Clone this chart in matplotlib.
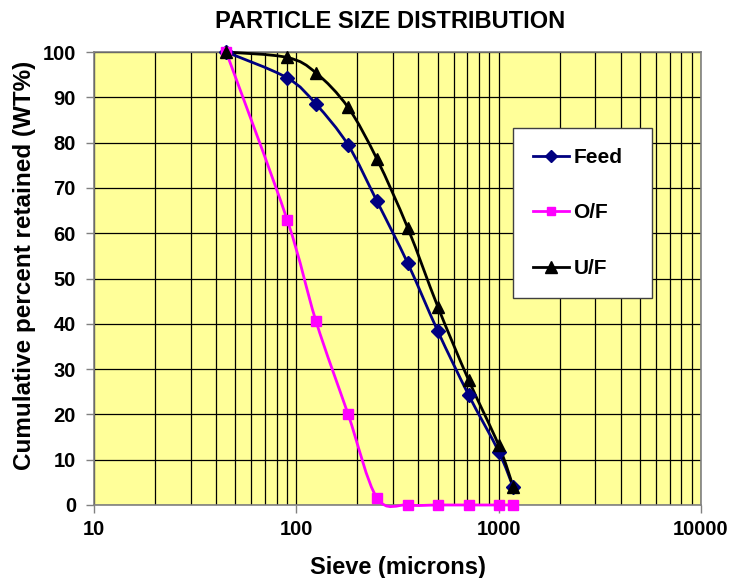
import numpy as np
import matplotlib
matplotlib.use("Agg")
import matplotlib.pyplot as plt
from matplotlib.path import Path
from matplotlib.patches import PathPatch
from matplotlib.lines import Line2D

plt.rcParams['font.family'] = ['Liberation Sans', 'DejaVu Sans']
plt.rcParams['font.weight'] = 'bold'

sieve = [45, 90, 125, 180, 250, 355, 500, 710, 1000, 1180]
feed = [100, 94.3, 88.5, 79.5, 67.1, 53.4, 38.4, 24.3, 11.8, 3.9]
overflow = [100, 63.0, 40.6, 20.1, 1.6, 0, 0, 0, 0, 0]
underflow = [100, 98.8, 95.4, 87.8, 76.4, 61.2, 43.8, 27.6, 13.2, 4.0]


def smooth_path(xs, ys):
    # excel-style smoothed line: bezier through points in (log x, y) space
    lx = np.log10(xs)
    ys = np.asarray(ys, float)
    n = len(lx)
    verts = [(xs[0], ys[0])]
    codes = [Path.MOVETO]
    for i in range(n - 1):
        a = max(i - 1, 0)
        b = min(i + 2, n - 1)
        c1x = lx[i] + (lx[i + 1] - lx[a]) / 6
        c1y = ys[i] + (ys[i + 1] - ys[a]) / 6
        c2x = lx[i + 1] - (lx[b] - lx[i]) / 6
        c2y = ys[i + 1] - (ys[b] - ys[i]) / 6
        verts += [(10 ** c1x, c1y), (10 ** c2x, c2y), (xs[i + 1], ys[i + 1])]
        codes += [Path.CURVE4] * 3
    return Path(verts, codes)


fig = plt.figure(figsize=(7.3, 5.78), dpi=100)
ax = fig.add_axes([0.1288, 0.1263, 0.8315, 0.7837])
ax.set_facecolor('#FFFF99')
ax.set_xscale('log')
ax.set_xlim(10, 10000)
ax.set_ylim(0, 100)

ax.set_xticks([10, 100, 1000, 10000], labels=['10', '100', '1000', '10000'])
ax.set_yticks(range(0, 101, 10))
ax.tick_params(axis='both', which='major', labelsize=14.5, length=6, width=1,
               color='#808080', direction='out')
ax.tick_params(axis='x', which='major', pad=5)
ax.tick_params(axis='y', which='major', pad=7)
ax.tick_params(axis='x', which='minor', length=0)
ax.grid(True, which='both', axis='x', color='black', linewidth=0.9)
ax.grid(True, which='major', axis='y', color='black', linewidth=0.9)
ax.set_axisbelow(True)
for s in ax.spines.values():
    s.set_color('#808080')
    s.set_linewidth(1.2)

series = [
    (feed, 'Feed', '#000080', 'D', 7),
    (overflow, 'O/F', '#FF00FF', 's', 7),
    (underflow, 'U/F', 'black', '^', 9),
]
handles = []
for vals, name, col, mk, ms in series:
    ax.add_patch(PathPatch(smooth_path(sieve, vals), fill=False, edgecolor=col,
                           linewidth=2, zorder=3, clip_on=False))
    ax.plot(sieve, vals, linestyle='none', marker=mk, color=col, markersize=ms,
            zorder=4, clip_on=False)
    handles.append(Line2D([], [], color=col, linewidth=2, marker=mk,
                          markersize=ms - 1))

leg = ax.legend(handles=handles, labels=[s[1] for s in series],
                loc='upper left', bbox_to_anchor=(0.690, 0.832, 0.229, 0.0),
                mode='expand', fontsize=15, labelspacing=1.75, borderpad=0.95,
                handlelength=1.75, handletextpad=0.2, borderaxespad=0,
                fancybox=False, framealpha=1, edgecolor='#404040',
                facecolor='white')
leg.get_frame().set_linewidth(1.0)

ax.set_title('PARTICLE SIZE DISTRIBUTION', fontsize=17, fontweight='bold', pad=17,
             x=0.488)
ax.set_xlabel('Sieve (microns)', fontsize=17, fontweight='bold', labelpad=12)
ax.set_ylabel('Cumulative percent retained (WT%)', fontsize=17.5, fontweight='bold')
ax.yaxis.set_label_coords(-0.095, 0.53)

fig.savefig('out.png', dpi=100, facecolor='white')
